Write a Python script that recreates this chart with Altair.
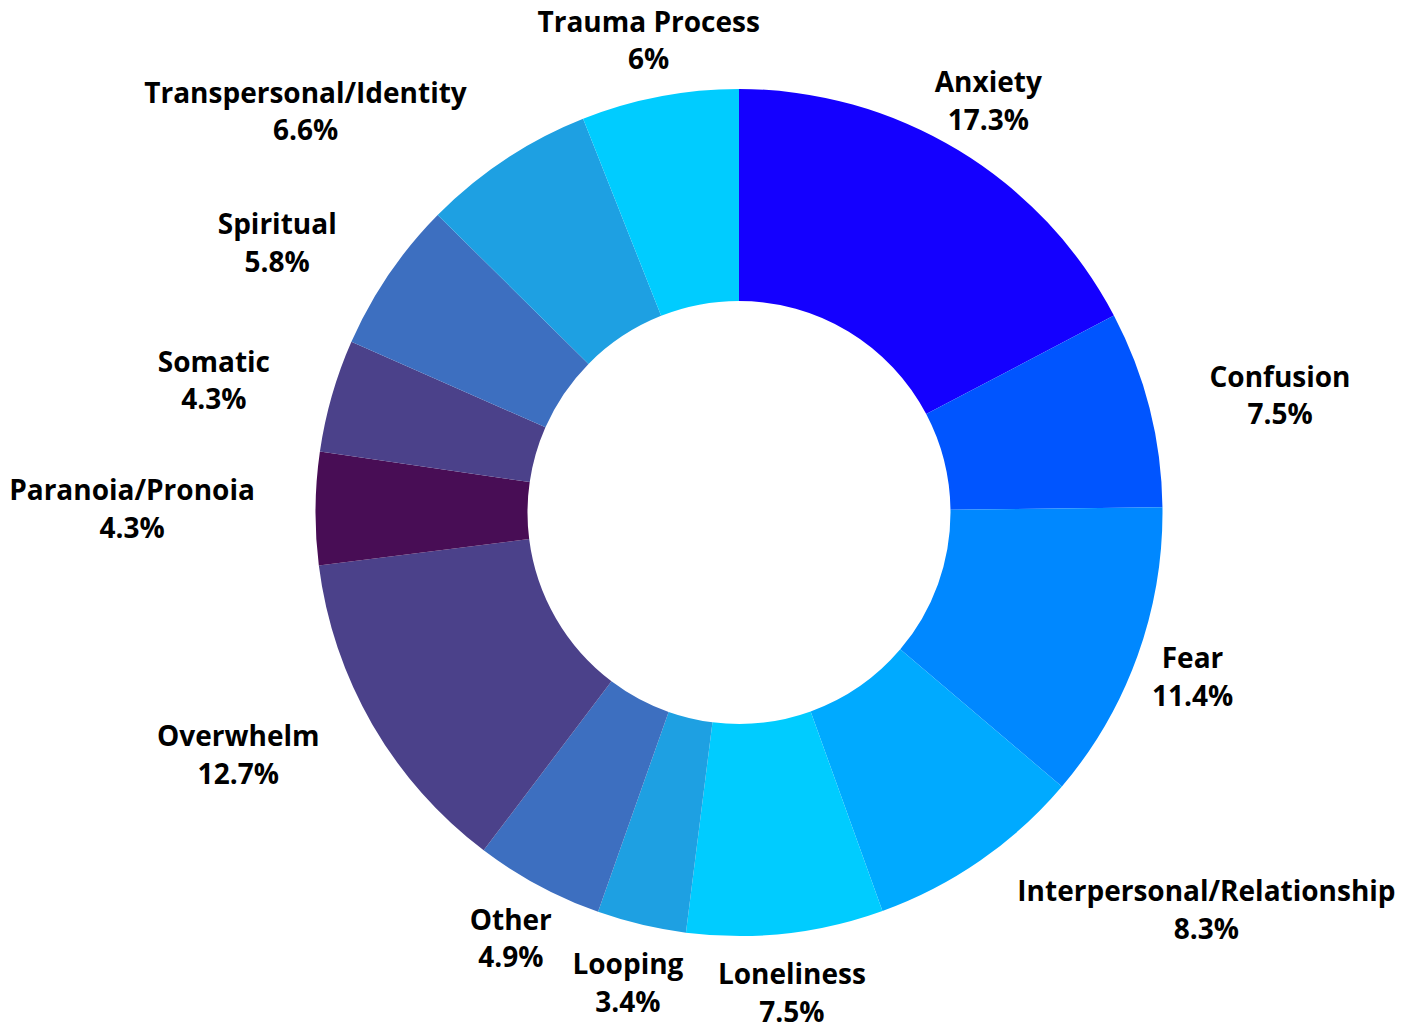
import altair as alt
import pandas as pd

categories = ["Anxiety", "Confusion", "Fear", "Interpersonal/Relationship", "Loneliness",
              "Looping", "Other", "Overwhelm", "Paranoia/Pronoia", "Somatic", "Spiritual",
              "Transpersonal/Identity", "Trauma Process"]
values = [17.3, 7.5, 11.4, 8.3, 7.5, 3.4, 4.9, 12.7, 4.3, 4.3, 5.8, 6.6, 6.0]
colors = ["#1400FF", "#0055FF", "#0088FF", "#00AAFF", "#00CCFF",
          "#1EA0E2", "#3D6FC0", "#4B418A", "#480D55", "#4B418A", "#3D6FC0",
          "#1EA0E2", "#00CCFF"]

df = pd.DataFrame({
    "category": categories,
    "value": values,
    "order": list(range(len(categories))),
    "pct": [f"{v:g}%" for v in values],
})

W, H = 1400, 1016
CX, CY = 731, 504.5          # donut centre inside the plot area
R_OUT, R_IN = 423.5, 211.5
L = 482                      # label anchor radius
FS = 28                      # label font size


def count(field, pattern):
    return (f"(length(datum.{field}) - length(replace(datum.{field}, "
            f"regexp('{pattern}', 'g'), '')))")


def em_width(field):
    # rough text width (in em) of a bold sans label
    return (f"(0.6*length(datum.{field}) - 0.3*{count(field, '[ijl.]')}"
            f" - 0.16*{count(field, '[tfrI/ ]')} + 0.35*{count(field, '[mwMW%]')}"
            f" + 0.08*{count(field, '[A-HJ-Z]')})")


base = alt.Chart(df)

arcs = base.mark_arc(outerRadius=R_OUT, innerRadius=R_IN).encode(
    theta=alt.Theta("value:Q", stack=True),
    color=alt.Color("category:N", scale=alt.Scale(domain=categories, range=colors), legend=None),
    order=alt.Order("order:Q"),
    x=alt.value(CX),
    y=alt.value(CY),
)

lab = base.transform_joinaggregate(
    total="sum(value)"
).transform_window(
    cum="sum(value)", sort=[alt.SortField("order")], frame=[None, 0]
).transform_calculate(
    a="2*PI*(datum.cum - datum.value/2)/datum.total",
    wn=em_width("category"),
    wp=em_width("pct"),
).transform_calculate(
    bx=f"{L}*sin(datum.a)",
    by=f"-{L}*cos(datum.a)",
    w=f"max(datum.wn, datum.wp)*{FS}/2",
).transform_calculate(
    ny="max(0, abs(datum.by) - 32)",
    nx="max(0, abs(datum.bx) - datum.w)",
).transform_calculate(
    ov=f"sqrt(datum.nx*datum.nx + datum.ny*datum.ny) < {R_OUT + 2}",
).transform_calculate(
    fx="datum.ov ? (datum.bx >= 0 ? 1 : -1)*(abs(datum.bx) + 3.5 + datum.w) : datum.bx"
).transform_calculate(
    lx=f"{CX} + datum.fx",
    ly=f"{CY} + datum.by",
)

txt_kw = dict(font="Open Sans", fontWeight="bold", fontSize=FS, color="#000000",
              align="center", baseline="middle")

name_text = lab.mark_text(dy=-15.5, **txt_kw).encode(
    x=alt.X("lx:Q", scale=None, axis=None),
    y=alt.Y("ly:Q", scale=None, axis=None),
    text="category:N",
)
pct_text = lab.mark_text(dy=22, **txt_kw).encode(
    x=alt.X("lx:Q", scale=None, axis=None),
    y=alt.Y("ly:Q", scale=None, axis=None),
    text="pct:N",
)

chart = alt.layer(arcs, name_text, pct_text).properties(
    width=W, height=H, padding=0, autosize="none", background="white"
).configure_view(stroke=None)

chart.save("out.html", embed_options={"renderer": "svg", "actions": False})
